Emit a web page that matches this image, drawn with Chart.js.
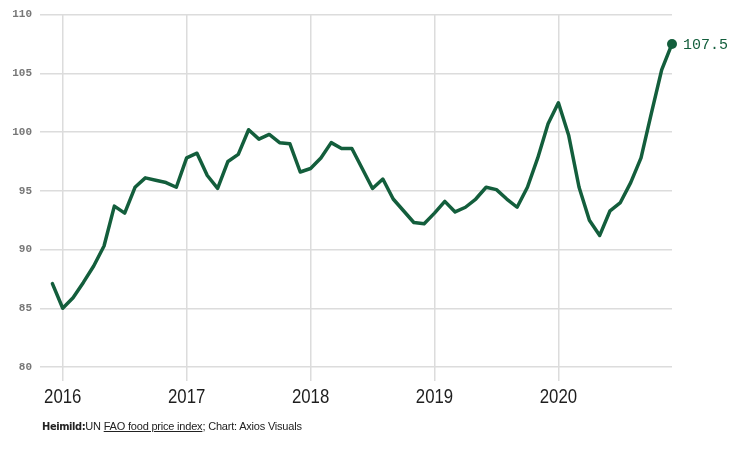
<!DOCTYPE html>
<html>
<head>
<meta charset="utf-8">
<script src="https://cdn.jsdelivr.net/npm/chart.js@4.4.1/dist/chart.umd.min.js"></script>
<style>
  html, body { margin: 0; padding: 0; background: #fff; }
  #wrap { position: relative; width: 731px; height: 456px; }
  #source {
    position: absolute; left: 42px; top: 420px;
    font-family: "Liberation Sans", Arial, sans-serif; font-size: 11px; color: #222;
    letter-spacing: -0.2px;
  }
  #source b { font-family: "DejaVu Sans Condensed", "Liberation Sans", sans-serif; font-size: 11px; letter-spacing: -0.4px; }
  #source u { text-underline-offset: 1px; }
</style>
</head>
<body>
<div id="wrap">
  <canvas id="foodChart" width="731" height="456"></canvas>
  <div id="source"><b>Heimild:</b>UN <u>FAO food price index</u>; Chart: Axios Visuals</div>
</div>
<script>
// months from Dec 2015 to Dec 2020
const months = [
  "2015-12",
  "2016-01","2016-02","2016-03","2016-04","2016-05","2016-06","2016-07","2016-08","2016-09","2016-10","2016-11","2016-12",
  "2017-01","2017-02","2017-03","2017-04","2017-05","2017-06","2017-07","2017-08","2017-09","2017-10","2017-11","2017-12",
  "2018-01","2018-02","2018-03","2018-04","2018-05","2018-06","2018-07","2018-08","2018-09","2018-10","2018-11","2018-12",
  "2019-01","2019-02","2019-03","2019-04","2019-05","2019-06","2019-07","2019-08","2019-09","2019-10","2019-11","2019-12",
  "2020-01","2020-02","2020-03","2020-04","2020-05","2020-06","2020-07","2020-08","2020-09","2020-10","2020-11","2020-12"
];
const priceIndex = [
  87.1,
  85.0, 85.9, 87.2, 88.6, 90.3, 93.7, 93.1, 95.3, 96.1, 95.9, 95.7, 95.3,
  97.8, 98.2, 96.3, 95.2, 97.5, 98.1, 100.2, 99.4, 99.8, 99.1, 99.0, 96.6,
  96.9, 97.8, 99.1, 98.6, 98.6, 96.9, 95.2, 96.0, 94.3, 93.3, 92.3, 92.2,
  93.1, 94.1, 93.2, 93.6, 94.3, 95.3, 95.1, 94.3, 93.6, 95.3, 97.8, 100.7,
  102.5, 99.7, 95.3, 92.5, 91.2, 93.3, 94.0, 95.7, 97.8, 101.6, 105.3, 107.5
];
const yearLabels = ["2016", "2017", "2018", "2019", "2020"];
const yTicks = [80, 85, 90, 95, 100, 105, 110];

const green = "#135e3c";

// months since Jan 2016
function monthNum(label) {
  const [y, m] = label.split("-").map(Number);
  return (y - 2016) * 12 + (m - 1);
}
const points = months.map((m, i) => ({ x: monthNum(m), y: priceIndex[i] }));
const lastIdx = points.length - 1;

const endLabel = {
  id: "endLabel",
  afterDatasetsDraw(chart) {
    const pt = chart.getDatasetMeta(0).data[lastIdx];
    const ctx = chart.ctx;
    ctx.save();
    ctx.font = "15px 'Liberation Mono', monospace";
    ctx.fillStyle = green;
    ctx.textBaseline = "middle";
    ctx.textAlign = "left";
    ctx.fillText(priceIndex[lastIdx].toFixed(1), pt.x + 11, pt.y + 1);
    ctx.restore();
  }
};

// year labels in a narrow face: squeeze the text horizontally
const narrowYears = {
  id: "narrowYears",
  afterDraw(chart) {
    const xs = chart.scales.x;
    const ctx = chart.ctx;
    ctx.save();
    ctx.font = "20px 'Liberation Sans', sans-serif";
    ctx.fillStyle = "#1e1e1e";
    ctx.textAlign = "center";
    ctx.textBaseline = "middle";
    xs.ticks.forEach((t) => {
      const px = xs.getPixelForValue(t.value);
      ctx.save();
      ctx.translate(px, xs.bottom - 89 + 30);
      ctx.scale(0.84, 1.05);
      ctx.fillText(String(2016 + t.value / 12), 0, 0);
      ctx.restore();
    });
    ctx.restore();
  }
};

new Chart(document.getElementById("foodChart").getContext("2d"), {
  type: "line",
  data: {
    datasets: [{
      data: points,
      borderColor: green,
      backgroundColor: green,
      borderWidth: 3.5,
      tension: 0,
      clip: false,
      borderJoinStyle: "round",
      borderCapStyle: "round",
      pointRadius: (c) => (c.dataIndex === lastIdx ? 5 : 0),
      pointHoverRadius: 0,
      pointBorderWidth: 0
    }]
  },
  options: {
    responsive: false,
    animation: false,
    layout: { padding: { left: 0, right: 59, top: 13, bottom: 0 } },
    plugins: { legend: { display: false }, tooltip: { enabled: false } },
    scales: {
      x: {
        type: "linear",
        min: -2.2,
        max: 59,
        afterBuildTicks: (axis) => {
          axis.ticks = yearLabels.map((y) => ({ value: (Number(y) - 2016) * 12 }));
        },
        afterFit: (axis) => { axis.height = 89; },
        border: { display: false },
        grid: { color: "#dcdcdc", lineWidth: 1.5, tickLength: 14, drawOnChartArea: true },
        ticks: {
          autoSkip: false,
          maxRotation: 0,
          padding: 5,
          color: "rgba(0,0,0,0)",
          font: { family: "'Liberation Sans', sans-serif", size: 20 },
          callback: (v) => String(2016 + v / 12)
        }
      },
      y: {
        min: 80,
        max: 110,
        afterBuildTicks: (axis) => { axis.ticks = yTicks.map((v) => ({ value: v })); },
        afterFit: (axis) => { axis.width = 40; },
        border: { display: false },
        grid: { color: "#dcdcdc", lineWidth: 1.5, drawTicks: false },
        ticks: {
          padding: 8,
          color: "#777",
          font: { family: "'Liberation Mono', monospace", size: 11, weight: "bold" }
        }
      }
    }
  },
  plugins: [endLabel, narrowYears]
});
</script>
</body>
</html>
